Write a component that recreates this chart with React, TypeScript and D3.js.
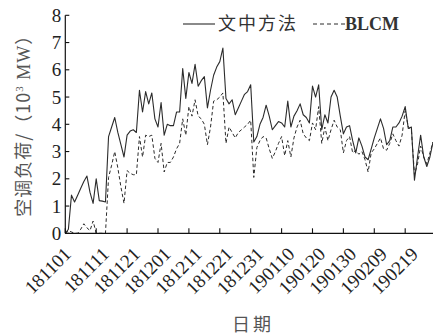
import React from "react";
import * as d3 from "d3";

// daily load, 2018-11-01 .. 2019-02-28 (10^3 MW)
const proposed = [
  0.0, 0.15, 1.4, 1.15, 1.4, 1.65, 1.9, 2.1, 1.5, 1.1,
  2.0, 1.2, 1.18, 1.15, 3.55, 3.9, 4.25, 3.7, 3.25, 2.8,
  3.6, 3.75, 3.8, 3.7, 5.25, 4.45, 5.2, 4.75, 5.15, 4.2,
  3.9, 4.8, 3.6, 4.0, 3.95, 3.95, 4.45, 4.45, 6.05, 4.95,
  5.9, 5.5, 6.2, 5.4, 5.6, 5.75, 4.6, 5.25, 5.8, 6.1,
  6.3, 6.8, 4.95, 4.75, 4.9, 4.35, 4.6, 4.85, 5.1, 5.2,
  5.45, 3.35, 3.55, 4.0, 4.25, 4.7, 4.3, 3.8, 3.95, 4.1,
  4.05, 3.9, 4.85, 3.9, 4.3, 4.5, 4.75, 4.35, 4.25, 4.05,
  5.4, 5.0, 5.45, 3.8, 4.35, 4.05, 5.0, 5.25, 5.0, 4.3,
  3.65, 3.9, 3.95, 3.4, 2.95, 3.5, 3.2, 2.8, 2.7, 3.1,
  3.5, 3.85, 4.2, 3.85, 3.25, 3.4, 3.9, 3.9, 4.05, 4.3,
  4.65, 3.85, 3.9, 1.95, 2.8, 3.6, 2.8, 2.45, 2.8, 3.35,
];

const blcm = [
  0.0, 0.1, 0.05, 0.0, 0.0, 0.15, 0.35, 0.2, 0.1, 0.45,
  0.0, 0.0, 0.0, 0.0, 2.05, 2.5, 3.0, 2.4, 1.7, 1.1,
  2.3, 2.2, 2.15, 2.15, 3.55, 2.8, 3.6, 3.55, 3.6, 2.75,
  2.6, 3.3, 2.25, 2.6, 2.6, 2.8, 3.1, 3.3, 4.2, 3.6,
  4.65, 4.3, 4.9, 4.3, 4.2, 4.0, 3.25, 3.9, 4.85, 4.9,
  5.0, 5.15, 3.3, 3.9, 3.7, 3.5, 3.7, 3.8, 3.9, 4.0,
  4.15, 2.05, 3.15, 3.4, 3.55, 3.5, 3.1, 2.75, 3.0, 3.3,
  3.55, 2.85, 3.4, 2.8, 3.5, 3.9, 4.15, 3.65, 3.5, 3.4,
  4.05, 3.8, 4.65, 3.3, 3.9, 3.4, 3.8, 4.15, 3.9, 3.8,
  2.95, 3.4, 3.55, 2.95, 3.05, 2.9, 3.0, 2.7, 2.25, 2.95,
  3.1, 3.3, 3.5, 3.1, 3.05, 3.3, 3.65, 3.4, 3.2, 3.6,
  4.5, 3.9, 3.8, 2.15, 2.55, 3.2, 2.8, 2.55, 2.95, 3.35,
];

const xTickLabels = [
  "181101", "181111", "181121", "181201", "181211", "181221",
  "181231", "190110", "190120", "190130", "190209", "190219",
];
const yTicks = [0, 1, 2, 3, 4, 5, 6, 7, 8];

const W = 433;
const H = 336;
const margin = { top: 15.3, right: 0, bottom: 102.7, left: 65.3 };

const serif = "'Liberation Serif', 'DejaVu Serif', serif";
const cjk = "'Noto Sans CJK SC', sans-serif";
const ink = "#2b2b2b";

export default function App() {
  const x = d3
    .scaleLinear()
    .domain([0, proposed.length - 1])
    .range([margin.left, W - margin.right]);
  const y = d3
    .scaleLinear()
    .domain([0, 8])
    .range([H - margin.bottom, margin.top]);

  const line = d3
    .line<number>()
    .x((_, i) => x(i))
    .y((d) => y(d));

  const y0 = y(0);

  return (
    <svg
      width={W}
      height={H}
      style={{ position: "absolute", left: 0, top: 0, background: "#fff" }}
    >
      {/* lines */}
      <path d={line(blcm) || ""} fill="none" stroke={ink} strokeWidth={1} strokeDasharray="3.5,2.5" />
      <path d={line(proposed) || ""} fill="none" stroke={ink} strokeWidth={1.1} strokeLinejoin="round" />

      {/* y axis */}
      <line x1={margin.left} x2={margin.left} y1={y(8)} y2={y0} stroke="#111" strokeWidth={1.2} />
      {yTicks.map((t) => (
        <g key={t}>
          <line x1={margin.left} x2={margin.left + 4} y1={y(t)} y2={y(t)} stroke="#111" strokeWidth={1.1} />
          <text
            x={margin.left - 4}
            y={y(t)}
            dy="0.35em"
            textAnchor="end"
            fontFamily={serif}
            fontSize={19}
            fill="#222"
          >
            {t}
          </text>
        </g>
      ))}

      {/* x axis */}
      <line x1={margin.left} x2={W} y1={y0} y2={y0} stroke="#111" strokeWidth={1.2} />
      {xTickLabels.map((lab, k) => {
        const xi = x(k * 10);
        const off = k === 0 ? 7 : 14;
        return (
          <g key={lab}>
            <line x1={xi} x2={xi} y1={y0} y2={y0 - 5} stroke="#111" strokeWidth={1.1} />
            <text
              transform={`translate(${xi + off},${y0 + 22}) rotate(-45)`}
              textAnchor="end"
              fontFamily={serif}
              fontSize={19}
              fill="#222"
            >
              {lab}
            </text>
          </g>
        );
      })}

      {/* axis titles */}
      <text x={253} y={331} textAnchor="middle" fontFamily={cjk} fontSize={18} letterSpacing={3} fill="#555">
        日期
      </text>
      <text
        transform={`translate(30,${(y(8) + y0) / 2 - 3}) rotate(-90)`}
        textAnchor="middle"
        fontFamily={cjk}
        fontSize={18}
        letterSpacing={1}
        fill="#555"
      >
        空调负荷/（10
        <tspan fontFamily={serif} fontSize={11} dy={-7}>3</tspan>
        <tspan fontFamily={serif} dy={7}> MW</tspan>）
      </text>

      {/* legend */}
      <line x1={183} x2={215} y1={24} y2={24} stroke={ink} strokeWidth={1.1} />
      <text x={218} y={24} dy="0.35em" fontFamily={cjk} fontSize={18} letterSpacing={2} fill="#333">
        文中方法
      </text>
      <line x1={313} x2={345} y1={24} y2={24} stroke={ink} strokeWidth={1} strokeDasharray="4,3" />
      <text x={345} y={24} dy="0.35em" fontFamily={serif} fontSize={18} fontWeight="bold" fill="#333">
        BLCM
      </text>
    </svg>
  );
}
